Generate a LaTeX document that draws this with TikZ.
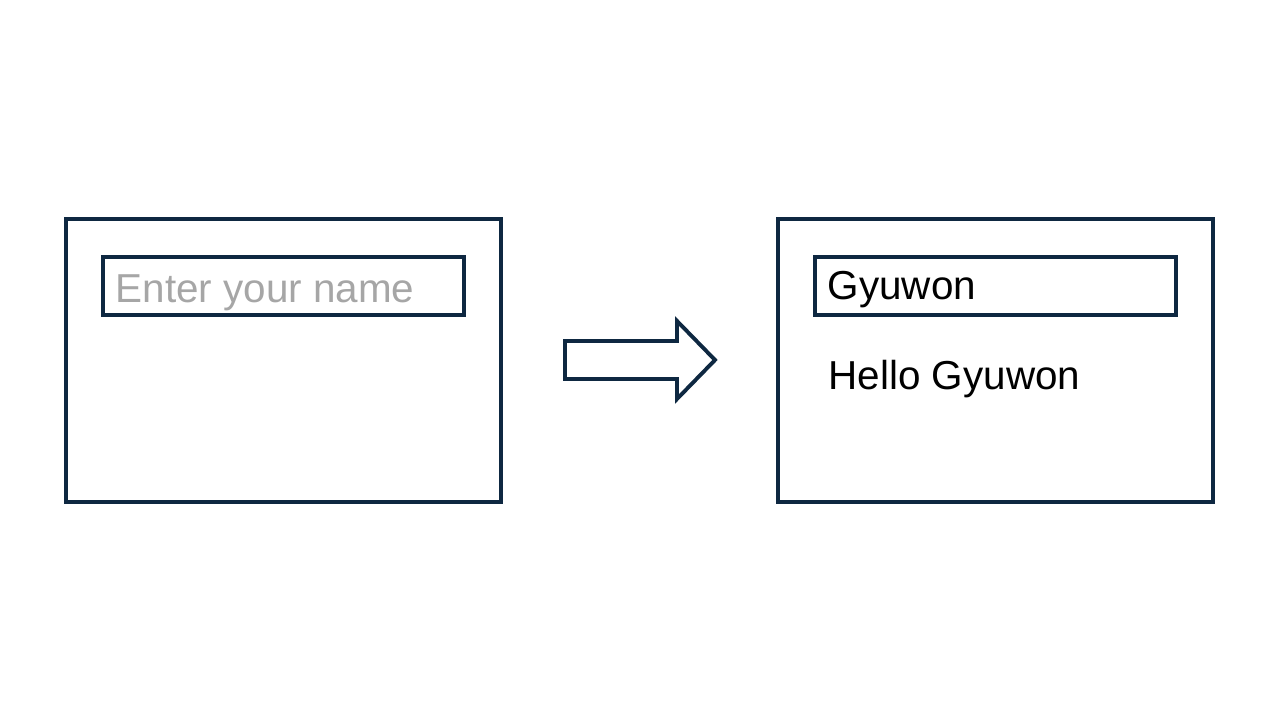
\documentclass[tikz,border=0pt]{standalone}
\usepackage{fontspec}
\setmainfont{Liberation Sans}
\usepackage{xcolor}
\usetikzlibrary{positioning,calc}

\definecolor{framecol}{HTML}{0E2841}
\definecolor{hintgray}{HTML}{A6A6A6}

\begin{document}
\begin{tikzpicture}[
		screen/.style={draw=framecol, line width=1.1pt, minimum width=4.35cm, minimum height=2.83cm, inner sep=0pt},
		inputbox/.style={draw=framecol, line width=1.1pt, minimum width=3.61cm, minimum height=0.58cm, inner sep=0pt},
		label/.style={inner sep=0pt, anchor=base west, font=\fontsize{11.5pt}{13pt}\selectfont}
	]
					\useasboundingbox (0, 0) rectangle (12.8, 7.2);
					\node[screen] (before) at (2.835, 3.595) {};
					\node[screen] (after) at (9.955, 3.595) {};
					\node[inputbox] (field1) at (2.835, 4.34) {};
					\node[inputbox] (field2) at (9.955, 4.34) {};
		
					\node[label, text=hintgray] (hint) at (1.15, 4.17) {Enter your name};
					\node[label] (typed) at (8.27, 4.20) {Gyuwon};
					\node[label] (greet) at (8.28, 3.30) {Hello Gyuwon};
		
					\coordinate (tail) at (5.65, 3.60);
					\coordinate (tip) at (7.15, 3.60);
					\draw[draw=framecol, line width=1.1pt, line join=miter]
						($(tail)+(0, 0.19)$) -- ++(1.12, 0) -- ++(0, 0.20) -- (tip)
						-- ($(tail)+(1.12, -0.39)$) -- ++(0, 0.20) -- ($(tail)+(0, -0.19)$) -- cycle;
				\end{tikzpicture}
\end{document}
